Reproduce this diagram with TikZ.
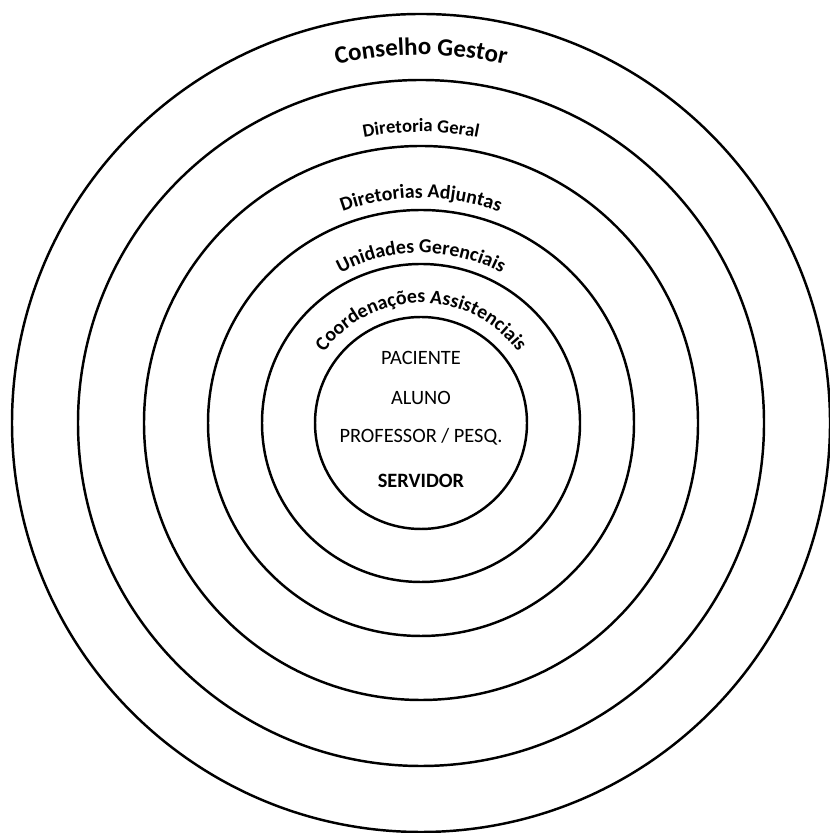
\documentclass[tikz,border=0pt]{standalone}
\usepackage{fontspec}
\setmainfont{Carlito}
\usetikzlibrary{decorations.text}

\tikzset{
  ring/.style={line width=1.4pt},
  ringlabel/.style={decorate, decoration={text along path, text align=center, text={#1}}},
  member/.style={anchor=base, font=\fontsize{11.6}{13}\selectfont}
}

\begin{document}
\begin{tikzpicture}[x=0.2mm, y=0.2mm]
\useasboundingbox (0, 0) rectangle (829, 833);
\coordinate (c) at (421, 410);
\foreach \r in {409, 343, 277, 213, 159, 106}
  \draw [ring] (c) circle [radius=\r];
\path [ringlabel={|\fontsize{14.2}{16}\selectfont\bfseries|Conselho Gestor}] (c) ++(180:368) arc [start angle=180, end angle=0, radius=368];
\path [ringlabel={|\fontsize{10.6}{12}\selectfont\bfseries|Diretoria Geral}] (c) ++(180:291) arc [start angle=180, end angle=0, radius=291];
\path [ringlabel={|\fontsize{11.3}{13}\selectfont\bfseries|Diretorias Adjuntas}] (c) ++(180:225) arc [start angle=180, end angle=0, radius=225];
\path [ringlabel={|\fontsize{11.3}{13}\selectfont\bfseries|Unidades Gerenciais}] (c) ++(180:170) arc [start angle=180, end angle=0, radius=170];
\path [ringlabel={|\fontsize{11.3}{13}\selectfont\bfseries|Coordenações Assistenciais}] (c) ++(180:120) arc [start angle=180, end angle=0, radius=120];
\node [member] (paciente) at (421, 468) {PACIENTE};
\node [member] (aluno) at (421, 428) {ALUNO};
\node [member] (professor) at (421, 390) {PROFESSOR / PESQ.};
\node [member, font=\fontsize{11.6}{13}\selectfont\bfseries] (servidor) at (421, 345) {SERVIDOR};
\end{tikzpicture}
\end{document}
